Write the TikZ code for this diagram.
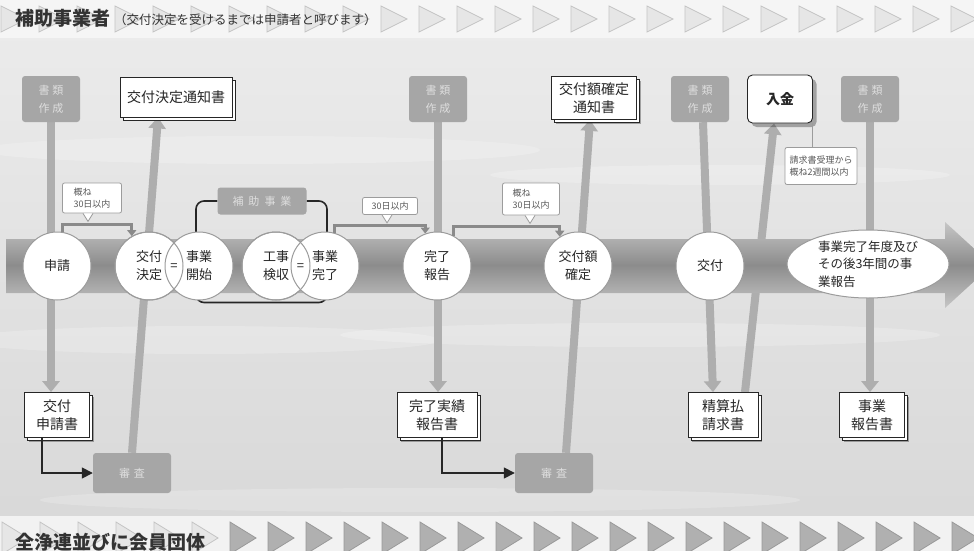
\documentclass[tikz,border=0pt]{standalone}
\usepackage{fontspec}
\setmainfont{Noto Sans CJK JP}
\usetikzlibrary{arrows.meta,shapes.geometric,shadows,calc}
\pgfdeclarelayer{bg}
\pgfdeclarelayer{conn}
\pgfdeclarelayer{bar}
\pgfsetlayers{bg,conn,bar,main}
\definecolor{bgc}{HTML}{E0E0E0}
\definecolor{txt}{HTML}{262626}
\definecolor{boxg}{HTML}{A6A6A6}
\definecolor{boxt}{HTML}{DEDEDE}
\definecolor{connc}{HTML}{AEAEAE}
\definecolor{durc}{HTML}{8A8A8A}
\definecolor{circc}{HTML}{9C9C9C}
\definecolor{barmid}{HTML}{8C8C8C}
\definecolor{baredge}{HTML}{C6C6C6}
\definecolor{trilight}{HTML}{E6E6E6}
\definecolor{triline}{HTML}{C4C4C4}
\definecolor{tridark}{HTML}{B0B0B0}
\tikzset{
  conn/.style={line width=8pt, draw=connc},
  conntip/.style={-{Triangle[width=17pt,length=11pt]}},
  gbox/.style={fill=boxg, rounded corners=3pt, text=boxt, minimum width=58pt, minimum height=46pt, inner sep=0pt, align=center, font=\fontsize{11}{18}\selectfont},
  docbox/.style={draw=txt, line width=0.8pt, fill=white, align=center, text=txt, inner sep=0pt, font=\fontsize{14}{18}\selectfont,
     drop shadow={shadow xshift=4pt, shadow yshift=-4pt, opacity=0.3, fill=black},
     copy shadow={shadow xshift=3pt, shadow yshift=-3pt, draw=txt, fill=white, line width=0.6pt}},
  paybox/.style={draw=txt, line width=0.9pt, fill=white, rounded corners=5pt, text=txt, minimum width=65pt, minimum height=48pt, font=\bfseries\fontsize{14}{18}\selectfont, drop shadow={shadow xshift=4pt, shadow yshift=-4pt, opacity=0.3, fill=black}},
  tcirc/.style={circle, fill=white, draw=circc, line width=1pt, minimum size=68pt, inner sep=0pt, align=center, text=txt, font=\fontsize{13}{18}\selectfont},
  ring/.style={draw=circc, line width=1pt},
  dur/.style={line width=3pt, draw=durc, -{Triangle[width=9pt,length=6pt]}},
  callout/.style={draw=circc, line width=0.8pt, fill=white, rounded corners=2pt, align=left, text=black!65, inner sep=2pt, font=\fontsize{9}{12}\selectfont},
  ctail/.style={draw=circc, line width=0.8pt, fill=white},
  brk/.style={line width=1.6pt, draw=txt, rounded corners=8pt},
  elab/.style={fill=boxg, rounded corners=3pt, text=boxt, minimum width=89pt, minimum height=27pt, inner sep=0pt, font=\fontsize{11}{13}\selectfont},
  arr/.style={line width=1.6pt, draw=txt, -{Triangle[width=11pt,length=11pt]}},
  eqs/.style={text=txt, font=\fontsize{13}{13}\selectfont, inner sep=0pt},
  tri/.style={fill=trilight, draw=triline, line width=0.8pt},
  trid/.style={fill=tridark, draw=black!40, line width=0.8pt},
  head/.style={text=black!80, font=\bfseries\fontsize{19}{22}\selectfont, anchor=base west, inner sep=0pt},
  subhead/.style={text=black!80, font=\fontsize{12.5}{14}\selectfont, anchor=base west, inner sep=0pt},
}
\begin{document}
\begin{tikzpicture}[x=1pt,y=-1pt]
\useasboundingbox (0,0) rectangle (974,551);
\clip (0,0) rectangle (974,551);

% ---------- background ----------
\begin{pgfonlayer}{bg}
\fill[bgc] (0,0) rectangle (974,551);
\shade[top color=white!92!black, bottom color=white!85!black] (0,38) rectangle (974,516);
\fill[white, opacity=0.2] (260,150) ellipse [x radius=280, y radius=14];
\fill[white, opacity=0.2] (720,175) ellipse [x radius=230, y radius=10];
\fill[white, opacity=0.2] (200,340) ellipse [x radius=240, y radius=14];
\fill[white, opacity=0.2] (640,335) ellipse [x radius=300, y radius=12];
\fill[white, opacity=0.2] (420,500) ellipse [x radius=380, y radius=12];
\fill[white!96!black] (0,0) rectangle (974,38);
\fill[white!95!black] (0,516) rectangle (974,551);
\foreach \k in {0,...,25} {
  \filldraw[tri] ({1+38*\k},6) -- ({27+38*\k},19) -- ({1+38*\k},32) -- cycle;
}
\foreach \k in {0,...,5} {
  \filldraw[tri] ({2+38*\k},522) -- ({28+38*\k},538) -- ({2+38*\k},554) -- cycle;
}
\foreach \k in {6,...,25} {
  \filldraw[trid] ({2+38*\k},522) -- ({28+38*\k},538) -- ({2+38*\k},554) -- cycle;
}
\end{pgfonlayer}

% ---------- headings ----------
\node[head] (h1) at (15,26) {補助事業者};
\node[subhead] (h1s) at (114,25) {（交付決定を受けるまでは申請者と呼びます）};
\node[head] (h2) at (15,549) {全浄連並びに会員団体};

% ---------- top boxes ----------
\node[gbox] (sr1) at (51,99) {書\hspace{3pt}類\\作\hspace{3pt}成};
\node[docbox, minimum width=112pt, minimum height=40pt] (ntc1) at (176,97) {交付決定通知書};
\node[gbox] (sr2) at (438,99) {書\hspace{3pt}類\\作\hspace{3pt}成};
\node[docbox, minimum width=85pt, minimum height=43pt] (ntc2) at (594,98) {交付額確定\\通知書};
\node[gbox] (sr3) at (700,99) {書\hspace{3pt}類\\作\hspace{3pt}成};
\node[paybox] (nyukin) at (780,99) {入金};
\node[gbox] (sr4) at (870,99) {書\hspace{3pt}類\\作\hspace{3pt}成};

% ---------- bottom boxes ----------
\node[docbox, minimum width=65pt, minimum height=45pt] (doc1) at (57,415) {交付\\申請書};
\node[docbox, minimum width=80pt, minimum height=45pt] (doc2) at (437,415) {完了実績\\報告書};
\node[docbox, minimum width=70pt, minimum height=45pt] (doc3) at (723,415) {精算払\\請求書};
\node[docbox, minimum width=65pt, minimum height=45pt] (doc4) at (872,415) {事業\\報告書};
\node[gbox, minimum width=78pt, minimum height=40pt] (sin1) at (132,473) {審\hspace{4pt}査};
\node[gbox, minimum width=78pt, minimum height=40pt] (sin2) at (554,473) {審\hspace{4pt}査};

% ---------- timeline circles ----------
\node[tcirc] (shinsei) at (57,266) {申請};
\node[tcirc] (kettei) at (149,266) {交付\\決定};
\node[tcirc] (kaishi) at (199,266) {事業\\開始};
\node[tcirc] (kenshu) at (276,266) {工事\\検収};
\node[tcirc] (kanryo) at (325,266) {事業\\完了};
\node[tcirc] (hokoku) at (437,266) {完了\\報告};
\node[tcirc] (kakutei) at (578,266) {交付額\\確定};
\node[tcirc] (kofu) at (710,266) {交付};
\node[ellipse, fill=white, draw=circc, line width=1pt, minimum width=162pt, minimum height=68pt, inner sep=0pt, text=txt, align=left, font=\fontsize{12.5}{17.5}\selectfont] (report) at (868,264) {事業完了年度及び\\その後3年間の事\\業報告};
\draw[ring] (kettei.center) circle[radius=34pt];
\draw[ring] (kenshu.center) circle[radius=34pt];
\node[eqs] (eq1) at (174,267) {=};
\node[eqs] (eq2) at (300.5,267) {=};

% ---------- 補助事業 label ----------
\node[elab] (hojo) at (262,201) {補\hspace{5pt}助\hspace{5pt}事\hspace{5pt}業};

% ---------- connectors (behind) ----------
\begin{pgfonlayer}{conn}
\draw[conn, conntip] (sr1.south) -- (sr1.south |- doc1.north);
\draw[conn, conntip] (sin1.north) -- ($(ntc1.south)+(-18,0)$);
\draw[conn, conntip] (sr2.south) -- (sr2.south |- doc2.north);
\draw[conn, conntip] ($(sin2.north)+(12,0)$) -- ($(ntc2.south)+(-4,0)$);
\draw[conn, conntip] ($(sr3.south)+(3,0)$) -- ($(doc3.north)+(-10,0)$);
\draw[conn, conntip] ($(doc3.north)+(22,0)$) -- ($(nyukin.south)+(-6,0)$);
\draw[conn, conntip] (sr4.south) -- (sr4.south |- doc4.north);
\end{pgfonlayer}

% ---------- timeline bar and bracket ----------
\begin{pgfonlayer}{bar}
\shade[top color=baredge, bottom color=baredge, middle color=barmid]
  (6,239) -- (945,239) -- (945,222) -- (992,265) -- (945,308) -- (945,293) -- (6,293) -- cycle;
\draw[brk] (hojo.west) -| ($(kaishi.south)+(-3,2)$) -- ($(kanryo.south)+(2,2)$) |- (hojo.east);
\end{pgfonlayer}

% ---------- duration brackets ----------
\draw[dur] (shinsei.80) -- ($(shinsei.80)+(0,-8)$) -| (kettei.120);
\draw[dur] (kanryo.74) -- ($(kanryo.74)+(0,-7)$) -| (hokoku.110);
\draw[dur] (hokoku.62) -- ($(hokoku.62)+(0,-9)$) -| (kakutei.122);

% ---------- callouts ----------
\node[callout, minimum width=59pt, minimum height=30pt] (c1) at (92,198) {概ね\\30日以内};
\filldraw[ctail] ($(c1.south)+(-9,0)$) -- ($(c1.south)+(-4,8)$) -- ($(c1.south)+(1,0)$);
\node[callout, minimum width=55pt, minimum height=17pt] (c2) at (390,206) {30日以内};
\filldraw[ctail] ($(c2.south)+(-8,0)$) -- ($(c2.south)+(-3,8)$) -- ($(c2.south)+(2,0)$);
\node[callout, minimum width=57pt, minimum height=32pt] (c3) at (531,199) {概ね\\30日以内};
\filldraw[ctail] ($(c3.south)+(-6,0)$) -- ($(c3.south)+(-1,8)$) -- ($(c3.south)+(4,0)$);
\node[callout, minimum width=72pt, minimum height=37pt] (c4) at (821,166) {請求書受理から\\概ね2週間以内};
\coordinate (c4t) at ($(c4.north)+(-9,0)$);
\draw[ctail] (c4t) -- (c4t |- nyukin.south);

% ---------- review arrows ----------
\draw[arr] ($(doc1.south)+(-15,0)$) |- (sin1.west);
\draw[arr] ($(doc2.south)+(5,0)$) |- (sin2.west);
\end{tikzpicture}
\end{document}
